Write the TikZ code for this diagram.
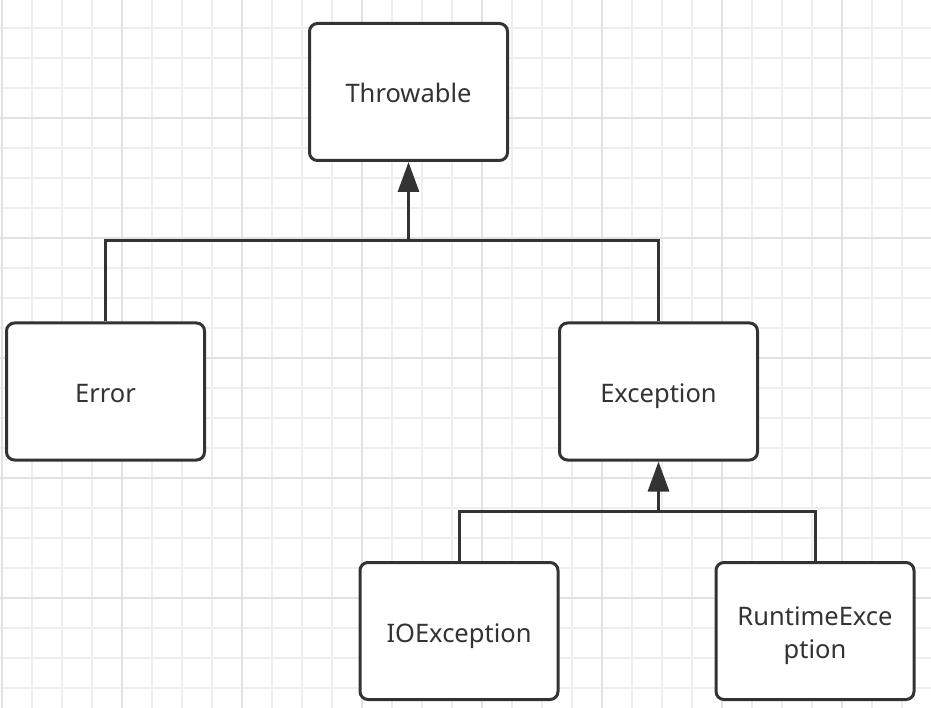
\documentclass[tikz,border=0pt]{standalone}
\usepackage{fontspec}
\setmainfont{Noto Sans}
\usetikzlibrary{arrows.meta}
\definecolor{minorgrid}{HTML}{EEEEEE}
\definecolor{majorgrid}{HTML}{E2E2E2}
\definecolor{ink}{HTML}{333333}
\begin{document}
\begin{tikzpicture}[x=1pt,y=-1pt,
  cls/.style={draw=ink, line width=3pt, rounded corners=8pt, fill=white,
    minimum width=198pt, minimum height=137pt, inner sep=0pt, align=center,
    font=\fontsize{25.5}{33}\selectfont, text=ink, text height=22pt, text depth=0pt},
  link/.style={draw=ink, line width=3pt},
  inherit/.style={draw=ink, line width=3pt, -{Triangle[length=30pt,width=21pt]}}]
\useasboundingbox (0,0) rectangle (931,708);
\fill[white] (0,0) rectangle (931,708);
% grid
\foreach \x in {2,32,...,931} \draw[minorgrid, line width=1.2pt] (\x,0) -- (\x,708);
\foreach \y in {28,58,...,708} \draw[minorgrid, line width=1.2pt] (0,\y) -- (931,\y);
\foreach \x in {2,122,...,931} \draw[majorgrid, line width=1.6pt] (\x,0) -- (\x,708);
\foreach \y in {118,238,...,708} \draw[majorgrid, line width=1.6pt] (0,\y) -- (931,\y);
% nodes
\node[cls] (throw) at (408.5,92) {Throwable};
\node[cls] (err) at (105.5,391.5) {Error};
\node[cls] (exc) at (658.5,391.5) {Exception};
\node[cls] (io) at (459,631) {IOException};
\node[cls, text height=54pt] (rt) at (815,631) {RuntimeExce\\ption};
% junctions
\coordinate (j1) at (throw.south |- 0,241);
\coordinate (j2) at (exc.south |- 0,511);
% connectors
\draw[link] (err.north) |- (j1) -| (exc.north);
\draw[inherit] (j1) -- (throw.south);
\draw[link] (io.north) |- (j2) -| (rt.north);
\draw[inherit] (j2) -- (exc.south);
\end{tikzpicture}
\end{document}
